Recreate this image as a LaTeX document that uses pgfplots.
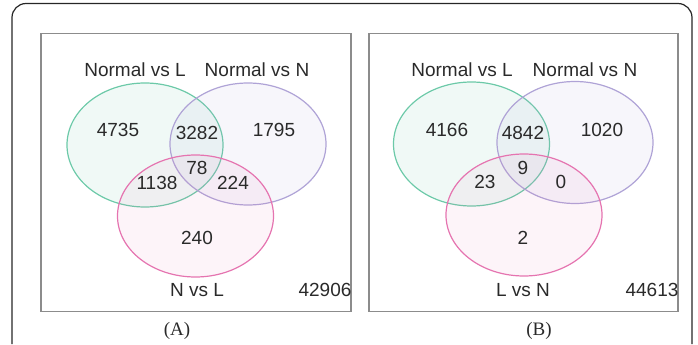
\documentclass[border=0pt]{standalone}
\usepackage{pgfplots}
\pgfplotsset{compat=1.18}
\usepackage{fontspec}
\setmainfont{Liberation Sans}
\newfontfamily\capfont{Liberation Serif}
\definecolor{vgreen}{HTML}{6CC9A8}
\definecolor{vpurple}{HTML}{AFA3D6}
\definecolor{vpink}{HTML}{E574B0}
\definecolor{boxgray}{HTML}{8C8C8C}
\definecolor{txt}{HTML}{2A2A2A}
\begin{document}
\begin{tikzpicture}
\begin{axis}[
  scale only axis, width=349pt, height=172pt,
  xmin=0, xmax=698, ymin=0, ymax=344, y dir=reverse,
  hide axis, clip=false,
]
% canvas extent
\path (axis cs:0,0) rectangle (axis cs:698,344);
% outer frame (open at bottom)
\draw[black!85, line width=0.6pt, rounded corners=7pt] (axis cs:12,344) -- (axis cs:12,3.5) -- (axis cs:692,3.5) -- (axis cs:692,344);
% panel boxes
\draw[boxgray, line width=0.8pt] (axis cs:41,33.5) rectangle (axis cs:351,311.5);
\draw[boxgray, line width=0.8pt] (axis cs:369,33.5) rectangle (axis cs:678,311.5);
% panel A ellipses
\draw[vgreen, line width=0.6pt, fill=vgreen, fill opacity=0.10] (axis cs:145,145) ellipse [x radius=39pt, y radius=31pt];
\draw[vpurple, line width=0.6pt, fill=vpurple, fill opacity=0.10] (axis cs:248,144) ellipse [x radius=39pt, y radius=30.5pt];
\draw[vpink, line width=0.6pt, fill=vpink, fill opacity=0.08] (axis cs:195.5,216) ellipse [x radius=39pt, y radius=30.5pt];
% panel B ellipses
\draw[vgreen, line width=0.6pt, fill=vgreen, fill opacity=0.10] (axis cs:471.5,144) ellipse [x radius=39pt, y radius=31pt];
\draw[vpurple, line width=0.6pt, fill=vpurple, fill opacity=0.10] (axis cs:575,142.5) ellipse [x radius=39pt, y radius=30.5pt];
\draw[vpink, line width=0.6pt, fill=vpink, fill opacity=0.08] (axis cs:524,215) ellipse [x radius=39pt, y radius=30.5pt];
% texts A
\begin{scope}[every node/.style={text=txt, font=\fontsize{9.5}{11}\selectfont, inner sep=0pt}]
\node at (axis cs:135,70) {Normal vs L};
\node at (axis cs:257,70) {Normal vs N};
\node at (axis cs:118,130) {4735};
\node at (axis cs:197,133) {3282};
\node at (axis cs:274,130) {1795};
\node at (axis cs:197,168) {78};
\node at (axis cs:157,183) {1138};
\node at (axis cs:233,183) {224};
\node at (axis cs:197,238) {240};
\node at (axis cs:197,290) {N vs L};
\node at (axis cs:325,290) {42906};
% texts B
\node at (axis cs:462,70) {Normal vs L};
\node at (axis cs:585,70) {Normal vs N};
\node at (axis cs:447,130) {4166};
\node at (axis cs:523,133) {4842};
\node at (axis cs:602,130) {1020};
\node at (axis cs:523,168) {9};
\node at (axis cs:485,182) {23};
\node at (axis cs:561,182) {0};
\node at (axis cs:523,238) {2};
\node at (axis cs:523,290) {L vs N};
\node at (axis cs:652,290) {44613};
\end{scope}
\node[text=txt, font=\capfont\fontsize{9.5}{11}\selectfont, inner sep=0pt] at (axis cs:177,331) {(A)};
\node[text=txt, font=\capfont\fontsize{9.5}{11}\selectfont, inner sep=0pt] at (axis cs:539,331) {(B)};
\end{axis}
\end{tikzpicture}
\end{document}
